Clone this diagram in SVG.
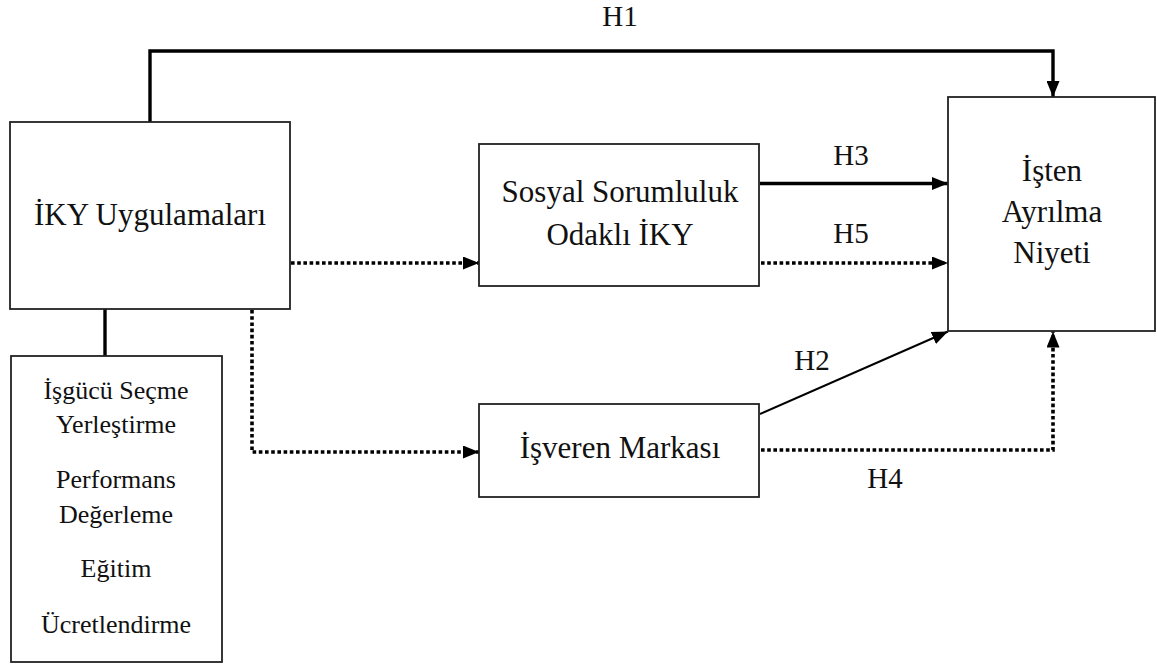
<svg xmlns="http://www.w3.org/2000/svg" width="1157" height="664" viewBox="0 0 1157 664">
  <style>
    .box { fill: #ffffff; stroke: #222222; stroke-width: 1.8; }
    .lbl { font-family: "Liberation Serif", "Times New Roman", serif; fill: #111111; text-anchor: middle; }
    .main { font-size: 31px; }
    .list { font-size: 26px; }
    .hyp { font-size: 29px; }
    .solid { fill: none; stroke: #000000; stroke-width: 3.4; }
    .thin { fill: none; stroke: #000000; stroke-width: 2; }
    .dot { fill: none; stroke: #000000; stroke-width: 3.6; stroke-dasharray: 3.6 2.6; }
  </style>
  <defs>
    <marker id="arrow" viewBox="0 0 16 13" refX="16" refY="6.5" markerWidth="16" markerHeight="13" markerUnits="userSpaceOnUse" orient="auto">
      <path d="M0,0 L16,6.5 L0,13 z" fill="#000000"/>
    </marker>
  </defs>

  <rect width="1157" height="664" fill="#ffffff"/>

  <!-- connectors -->
  <g id="connectors">
    <!-- H1: practices to intention, over the top -->
    <path class="solid" d="M150,122 V51 H1053 V97" marker-end="url(#arrow)"/>
    <!-- practices to list of functions -->
    <path class="solid" d="M105,309 V356"/>
    <!-- practices to CSR-focused HRM -->
    <path class="dot" d="M291,263 H479" marker-end="url(#arrow)"/>
    <!-- practices to employer brand -->
    <path class="dot" d="M252,310 V452 H479" marker-end="url(#arrow)"/>
    <!-- H3 -->
    <path class="solid" d="M760,183.5 H948" marker-end="url(#arrow)"/>
    <!-- H5 -->
    <path class="dot" d="M761,263 H948" marker-end="url(#arrow)"/>
    <!-- H2 -->
    <path class="thin" d="M760,414 L948,331.5" marker-end="url(#arrow)"/>
    <!-- H4 -->
    <path class="dot" d="M761,450 H1053 V331.5" marker-end="url(#arrow)"/>

    <text class="lbl hyp" x="620" y="26">H1</text>
    <text class="lbl hyp" x="851" y="165">H3</text>
    <text class="lbl hyp" x="851" y="243">H5</text>
    <text class="lbl hyp" x="812" y="370">H2</text>
    <text class="lbl hyp" x="885" y="488">H4</text>
  </g>

  <g id="node-iky">
    <rect class="box" x="10" y="122" width="280" height="187"/>
    <text class="lbl main" x="150" y="225">İKY Uygulamaları</text>
  </g>

  <g id="node-functions">
    <rect class="box" x="11" y="356" width="211" height="306"/>
    <text class="lbl list" x="116" y="399">İşgücü Seçme</text>
    <text class="lbl list" x="116" y="433">Yerleştirme</text>
    <text class="lbl list" x="116" y="488">Performans</text>
    <text class="lbl list" x="116" y="523">Değerleme</text>
    <text class="lbl list" x="116" y="577">Eğitim</text>
    <text class="lbl list" x="116" y="633">Ücretlendirme</text>
  </g>

  <g id="node-csr">
    <rect class="box" x="479" y="144" width="280" height="142"/>
    <text class="lbl main" x="620" y="202">Sosyal Sorumluluk</text>
    <text class="lbl main" x="620" y="245">Odaklı İKY</text>
  </g>

  <g id="node-brand">
    <rect class="box" x="479" y="404" width="280" height="93"/>
    <text class="lbl main" x="620" y="458">İşveren Markası</text>
  </g>

  <g id="node-intention">
    <rect class="box" x="948" y="97" width="207" height="234"/>
    <text class="lbl main" x="1052" y="181">İşten</text>
    <text class="lbl main" x="1052" y="222">Ayrılma</text>
    <text class="lbl main" x="1052" y="263">Niyeti</text>
  </g>
</svg>
